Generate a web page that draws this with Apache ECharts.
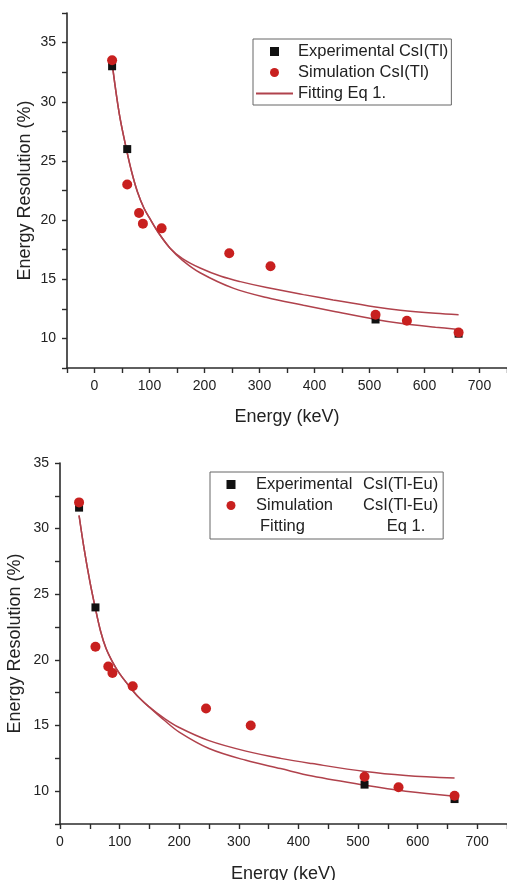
<!DOCTYPE html>
<html>
<head>
<meta charset="utf-8">
<title>Energy resolution vs energy</title>
<script src="https://cdn.jsdelivr.net/npm/echarts@6/dist/echarts.min.js"></script>
<style>
  html, body { margin: 0; padding: 0; background: #fff; }
  #chart { width: 507px; height: 880px; }
</style>
</head>
<body>
<div id="chart"></div>
<script>
// CsI(Tl) - upper panel
var expTlE = [32, 59.5, 511, 662]
var expTlR = [33.0, 26.0, 11.6, 10.4]
var simTlE = [32, 59.5, 81, 88, 122, 245, 320, 511, 568, 662]
var simTlR = [33.5, 23.0, 20.6, 19.7, 19.3, 17.2, 16.1, 12.0, 11.5, 10.5]
// two fitted curves
var fitTlAE = [33, 45, 58, 68, 78, 90, 101, 116, 137, 160, 192, 230, 265, 313, 380, 434, 511, 556, 620, 662]
var fitTlAR = [32.9, 29.0, 26.0, 24.0, 22.4, 21.0, 20.1, 18.95, 17.65, 16.75, 15.95, 15.25, 14.8, 14.3, 13.7, 13.25, 12.65, 12.38, 12.12, 12.0]
var fitTlBE = [33, 45, 58, 68, 78, 90, 101, 116, 137, 160, 192, 252, 313, 380, 434, 511, 556, 620, 662]
var fitTlBR = [32.9, 29.0, 26.0, 24.0, 22.4, 21.0, 20.1, 18.95, 17.65, 16.6, 15.55, 14.25, 13.45, 12.8, 12.3, 11.6, 11.28, 10.95, 10.76]

// CsI(Tl-Eu) - lower panel
var expEuE = [32, 59.5, 511, 662]
var expEuR = [31.6, 24.0, 10.5, 9.4]
var simEuE = [32, 59.5, 81, 88, 122, 245, 320, 511, 568, 662]
var simEuR = [32.0, 21.0, 19.5, 19.0, 18.0, 16.3, 15.0, 11.1, 10.3, 9.65]
var fitEuAE = [32, 40, 50, 59, 68, 77, 88, 100, 117, 132, 150, 175, 200, 250, 312, 370, 423, 512, 580, 662]
var fitEuAR = [31.0, 28.6, 26.0, 24.0, 22.2, 20.9, 19.85, 18.95, 17.95, 17.15, 16.4, 15.55, 14.85, 13.85, 13.05, 12.5, 12.1, 11.5, 11.2, 11.0]
var fitEuBE = [32, 40, 50, 59, 68, 77, 88, 100, 117, 132, 150, 175, 200, 250, 312, 370, 423, 512, 580, 662]
var fitEuBR = [31.0, 28.6, 26.0, 24.0, 22.2, 20.9, 19.85, 18.95, 17.95, 17.15, 16.4, 15.4, 14.5, 13.25, 12.35, 11.72, 11.15, 10.45, 10.0, 9.62]

var font = 'Liberation Sans, Arial, sans-serif'
var axisColor = '#2b2b2b'
var fitColor = '#b0424c'
var squareIcon = 'path://M0,0H10V10H0Z'

function pairs(xs, ys) {
  return xs.map(function(x, i) { return [x, ys[i]] })
}

function xAxisFor(idx, min, gap) {
  return {
    type: 'value',
    gridIndex: idx,
    min: min,
    max: 750,
    interval: 50,
    name: 'Energy (keV)',
    nameLocation: 'middle',
    nameGap: gap,
    nameMoveOverlap: false,
    nameTextStyle: { fontFamily: font, fontSize: 18, color: '#222' },
    axisLine: { show: true, onZero: false, lineStyle: { color: axisColor, width: 1.6 } },
    axisTick: { show: true, length: 5, lineStyle: { color: axisColor, width: 1.4 } },
    splitLine: { show: false },
    axisLabel: {
      margin: 11,
      fontFamily: font,
      fontSize: 14,
      color: '#222',
      formatter: function(v) { return v % 100 === 0 ? String(v) : '' }
    }
  }
}

function yAxisFor(idx, max, gap) {
  return {
    type: 'value',
    gridIndex: idx,
    min: 7.5,
    max: max,
    interval: 2.5,
    name: 'Energy Resolution (%)',
    nameLocation: 'middle',
    nameGap: gap,
    nameMoveOverlap: false,
    nameTextStyle: { fontFamily: font, fontSize: 18, color: '#222' },
    axisLine: { show: true, onZero: false, lineStyle: { color: axisColor, width: 1.6 } },
    axisTick: { show: true, length: 5, lineStyle: { color: axisColor, width: 1.4 } },
    splitLine: { show: false },
    axisLabel: {
      margin: 11,
      fontFamily: font,
      fontSize: 14,
      color: '#222',
      formatter: function(v) { return v % 5 === 0 ? String(v) : '' }
    }
  }
}

function fitLine(name, idx, xs, ys) {
  return {
    name: name,
    type: 'line',
    xAxisIndex: idx,
    yAxisIndex: idx,
    data: pairs(xs, ys),
    symbol: 'none',
    showSymbol: false,
    smooth: 0.35,
    silent: true,
    z: 1,
    itemStyle: { color: fitColor },
    lineStyle: { color: fitColor, width: 1.5 }
  }
}

function scatter(name, idx, xs, ys, sym, size, color, z) {
  return {
    name: name,
    type: 'scatter',
    xAxisIndex: idx,
    yAxisIndex: idx,
    data: pairs(xs, ys),
    symbol: sym,
    symbolSize: size,
    z: z,
    itemStyle: { color: color, opacity: 1 }
  }
}

var euLabels = {
  'Experimental CsI(Tl-Eu)': '{a|Experimental}{b|CsI(Tl-Eu)}',
  'Simulation CsI(Tl-Eu)': '{a|Simulation}{b|CsI(Tl-Eu)}',
  'Fitting CsI(Tl-Eu) Eq 1.': '{c|Fitting}{b|Eq 1.}'
}

var option = {
  backgroundColor: '#fff',
  animation: false,
  grid: [
    { left: 67, top: 13, width: 440, height: 355, outerBoundsMode: 'none' },
    { left: 60, top: 463, width: 447, height: 361, outerBoundsMode: 'none' }
  ],
  xAxis: [xAxisFor(0, -50, 40), xAxisFor(1, 0, 41)],
  yAxis: [yAxisFor(0, 37.5, 33), yAxisFor(1, 35, 36)],
  legend: [
    {
      orient: 'vertical',
      left: 253,
      top: 39,
      itemWidth: 37,
      itemHeight: 9,
      itemGap: 4,
      padding: [4, 3, 3, 2],
      borderColor: '#666',
      borderWidth: 1,
      selectedMode: false,
      textStyle: { fontFamily: font, fontSize: 16.5, color: '#222', lineHeight: 17 },
      data: [
        { name: 'Experimental CsI(Tl)', icon: squareIcon },
        'Simulation CsI(Tl)',
        { name: 'Fitting Eq 1.', itemStyle: { opacity: 0 } }
      ]
    },
    {
      orient: 'vertical',
      left: 210,
      top: 472,
      itemWidth: 40,
      itemHeight: 9,
      itemGap: 4,
      padding: [4, 5, 4, 1],
      borderColor: '#666',
      borderWidth: 1,
      selectedMode: false,
      formatter: function(name) { return euLabels[name] },
      textStyle: {
        fontFamily: font, fontSize: 16.5, color: '#222', lineHeight: 17,
        rich: {
          a: { fontFamily: font, fontSize: 16.5, color: '#222', width: 107, lineHeight: 17 },
          b: { fontFamily: font, fontSize: 16.5, color: '#222', lineHeight: 17 },
          c: { fontFamily: font, fontSize: 16.5, color: '#222', width: 126.7, padding: [0, 0, 0, 4], lineHeight: 17 }
        }
      },
      data: [
        { name: 'Experimental CsI(Tl-Eu)', icon: squareIcon },
        'Simulation CsI(Tl-Eu)',
        { name: 'Fitting CsI(Tl-Eu) Eq 1.', icon: 'none' }
      ]
    }
  ],
  series: [
    fitLine('Fitting Eq 1.', 0, fitTlAE, fitTlAR),
    fitLine('Fitting Eq 1.', 0, fitTlBE, fitTlBR),
    scatter('Experimental CsI(Tl)', 0, expTlE, expTlR, 'rect', 8, '#111', 3),
    scatter('Simulation CsI(Tl)', 0, simTlE, simTlR, 'circle', 10, '#c8201f', 4),
    fitLine('Fitting CsI(Tl-Eu) Eq 1.', 1, fitEuAE, fitEuAR),
    fitLine('Fitting CsI(Tl-Eu) Eq 1.', 1, fitEuBE, fitEuBR),
    scatter('Experimental CsI(Tl-Eu)', 1, expEuE, expEuR, 'rect', 8, '#111', 3),
    scatter('Simulation CsI(Tl-Eu)', 1, simEuE, simEuR, 'circle', 10, '#c8201f', 4)
  ]
}

var myChart = echarts.init(document.getElementById('chart'))
myChart.setOption(option)
</script>
</body>
</html>
